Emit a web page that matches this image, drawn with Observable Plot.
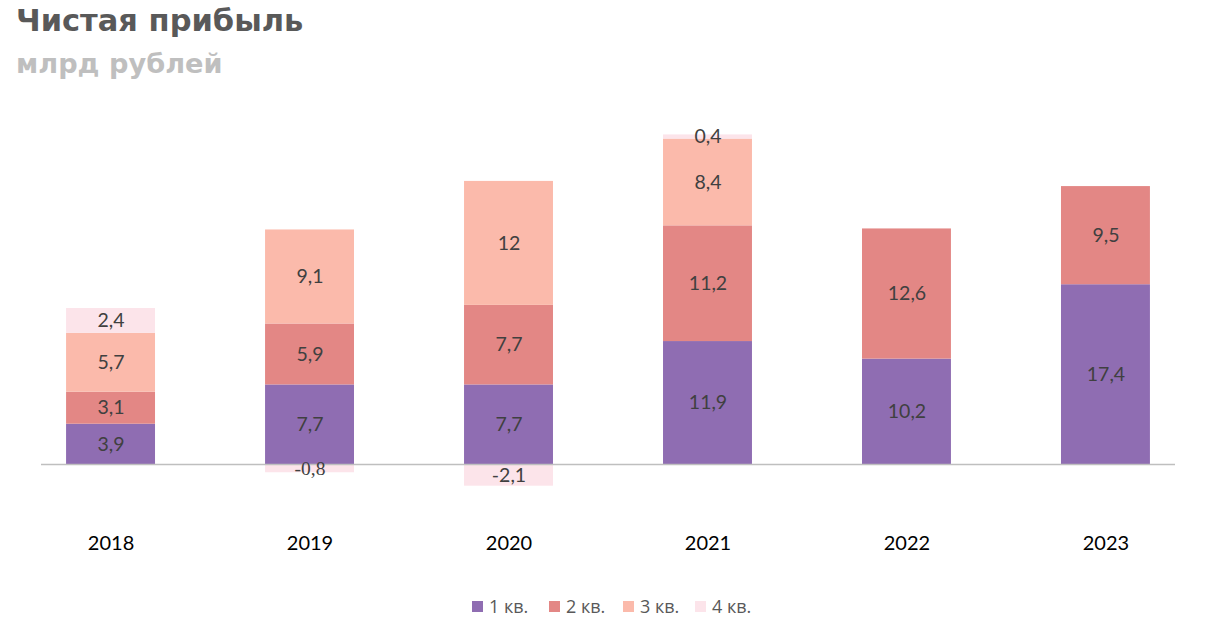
<!DOCTYPE html>
<html>
<head>
<meta charset="utf-8">
<script src="https://cdn.jsdelivr.net/npm/d3@7"></script>
<script src="https://cdn.jsdelivr.net/npm/@observablehq/plot@0.6"></script>
<style>
  body { margin: 0; background: #fff; width: 1208px; height: 635px; position: relative; overflow: hidden; }
  #title { position: absolute; left: 16px; top: 3px; font-family: "DejaVu Sans", sans-serif; font-weight: bold; font-size: 30.5px; color: #595959; line-height: 1.2; }
  #subtitle { position: absolute; left: 16px; top: 48px; font-family: "DejaVu Sans", sans-serif; font-weight: bold; font-size: 27.2px; color: #bfbfbf; line-height: 1.2; }
  #chart { position: absolute; left: 0; top: 95px; }
  .item { position: absolute; top: 594px; height: 24px; display: flex; align-items: center; font-family: "Open Sans", sans-serif; font-size: 18px; color: #595959; }
  .sw { width: 11px; height: 11px; margin-right: 6px; }
</style>
</head>
<body>
<div id="title">Чистая прибыль</div>
<div id="subtitle">млрд рублей</div>
<div id="chart"></div>
<div id="legend"></div>
<script>
const years = ["2018", "2019", "2020", "2021", "2022", "2023"];
const quarters = ["1 кв.", "2 кв.", "3 кв.", "4 кв."];
const colors = ["#8f6db2", "#e38785", "#fbbaab", "#fce4ea"];
const q1 = [3.9, 7.7, 7.7, 11.9, 10.2, 17.4];
const q2 = [3.1, 5.9, 7.7, 11.2, 12.6, 9.5];
const q3 = [5.7, 9.1, 12, 8.4, null, null];
const q4 = [2.4, -0.8, -2.1, 0.4, null, null];

const series = [q1, q2, q3, q4];
const data = [];
years.forEach((y, i) => {
  series.forEach((s, k) => {
    if (s[i] != null) data.push({year: y, quarter: quarters[k], value: s[i]});
  });
});
const fmt = v => String(v).replace(".", ",");

const stackOpts = {x: "year", y: "value", z: "quarter", order: quarters};

const plot = Plot.plot({
  width: 1208,
  height: 480,
  marginLeft: 41,
  marginRight: 33,
  marginTop: 7.4,
  marginBottom: 59.35,
  x: {domain: years, paddingInner: 0.553, paddingOuter: 0.126, round: false, label: null},
  y: {domain: [-5, 35], axis: null},
  color: {domain: quarters, range: colors},
  style: {fontFamily: "Lato, sans-serif"},
  marks: [
    Plot.barY(data, Plot.stackY({...stackOpts, fill: "quarter"})),
    Plot.ruleY([0], {stroke: "#bfbfbf", strokeWidth: 1.3}),
    Plot.text(data, Plot.stackY({...stackOpts, text: d => fmt(d.value), fill: "#404040", fontSize: 19.5, filter: d => d.value !== -0.8})),
    Plot.text(data, Plot.stackY({...stackOpts, text: d => fmt(d.value), fill: "#404040", fontSize: 19.5, fontFamily: "'Liberation Serif', serif", filter: d => d.value === -0.8})),
    Plot.axisX({tickSize: 0, tickPadding: 20, fontSize: 20, color: "#000", label: null, fill: "#000"})
  ]
});
document.getElementById("chart").appendChild(plot);

const lg = document.getElementById("legend");
const legendX = [472, 549, 623, 695];
quarters.forEach((q, k) => {
  const it = document.createElement("div");
  it.className = "item";
  it.style.left = legendX[k] + "px";
  const sw = document.createElement("div");
  sw.className = "sw";
  sw.style.background = colors[k];
  const t = document.createElement("span");
  t.textContent = q;
  it.appendChild(sw); it.appendChild(t);
  lg.appendChild(it);
});
</script>
</body>
</html>
